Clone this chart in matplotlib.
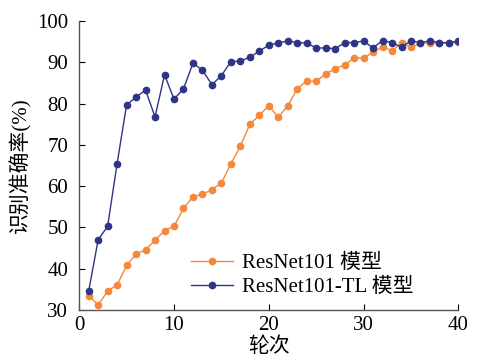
import matplotlib
matplotlib.use("Agg")
import matplotlib.pyplot as plt

plt.rcParams['font.family'] = ['Liberation Serif', 'Noto Sans CJK SC']

epochs = list(range(1, 41))
resnet101 = [33.5, 31.2, 34.6, 36.1, 40.8, 43.6, 44.6, 46.9, 49.2, 50.3,
             54.6, 57.5, 58.0, 59.2, 60.8, 65.4, 69.7, 75.0, 77.2, 79.5,
             76.7, 79.5, 83.6, 85.5, 85.4, 87.2, 88.5, 89.4, 91.0, 91.1,
             92.4, 93.8, 92.8, 94.7, 93.7, 94.6, 94.8, 94.8, 94.8, 95.0]
resnet101_tl = [34.6, 47.0, 50.3, 65.5, 79.7, 81.6, 83.3, 76.8, 87.0, 81.1,
                83.6, 89.8, 88.1, 84.6, 86.8, 90.2, 90.3, 91.3, 92.7, 94.2,
                94.7, 95.2, 94.8, 94.7, 93.5, 93.5, 93.3, 94.8, 94.8, 95.2,
                93.5, 95.3, 94.8, 93.7, 95.2, 94.8, 95.2, 94.8, 94.7, 95.2]

orange = '#F5883A'
navy = '#2E3586'

fig = plt.figure(figsize=(4.8, 3.58), dpi=100)
ax = fig.add_axes([0.165, 0.134, 0.79, 0.807])

ax.plot(epochs, resnet101, color=orange, marker='o', ms=4.5, lw=1.0,
        label='ResNet101 模型')
ax.plot(epochs, resnet101_tl, color=navy, marker='o', ms=4.5, lw=1.0,
        label='ResNet101-TL 模型')

ax.set_xlim(0, 40)
ax.set_ylim(30, 100)
ax.set_xticks([0, 10, 20, 30, 40])
ax.set_yticks(range(30, 101, 10))
ax.tick_params(direction='in', labelsize=15, length=4, width=0.8)
ax.tick_params(axis='x', pad=4)
ax.tick_params(axis='y', pad=8)
for side in ('top', 'right'):
    ax.spines[side].set_visible(False)
for side in ('left', 'bottom'):
    ax.spines[side].set_color('#555555')
    ax.spines[side].set_linewidth(1.0)

ax.set_xlabel('轮次', fontsize=15, labelpad=2)
ax.set_ylabel('识别准确率(%)', fontsize=15, labelpad=4)

ax.legend(loc='lower right', bbox_to_anchor=(0.92, -0.005), frameon=False,
          fontsize=15, handlelength=2.0, handletextpad=0.45,
          labelspacing=0.2, borderaxespad=0.3)

fig.savefig('out.png', dpi=100, facecolor='white')
